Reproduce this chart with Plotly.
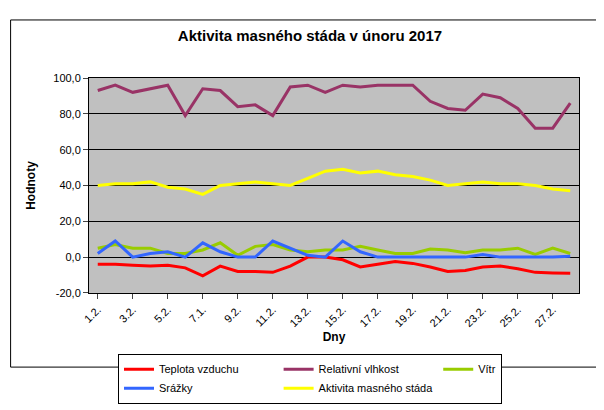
import plotly.graph_objects as go

days = ["1.2.","2.2.","3.2.","4.2.","5.2.","6.2.","7.1.","8.2.","9.2.","10.2.","11.2.","12.2.","13.2.","14.2.",
        "15.2.","16.2.","17.2.","18.2.","19.2.","20.2.","21.2.","22.2.","23.2.","24.2.","25.2.","26.2.","27.2.","28.2."]
teplota = [-4,-4,-4.5,-5,-4.5,-6,-10.5,-5,-8,-8,-8.5,-5,0,0,-1.5,-5.5,-4,-2.5,-3.5,-5.5,-8,-7.5,-5.5,-5,-6.5,-8.5,-8.8,-9]
vlhkost = [93,96,92,94,96,79,94,93,84,85,79,95,96,92,96,95,96,96,96,87,83,82,91,89,83,72,72,86]
vitr = [5,7,5,5,2,2,4,8,1,6,7,4,3,4,4,6,4,2,2,4.5,4,2.5,4,4,5,1.5,5,2]
srazky = [2,9,0,2,3,0,8,3,0,0,9,5,1,0,9,3,0,0,0,0,0,0,1.5,0,0,0,0,0.5]
aktivita = [40,41,41,42,39,38,35,40,41,42,41,40,44,48,49,47,48,46,45,43,40,41,42,41,41,40,38,37]
yticks = [-20,0,20,40,60,80,100]
yticklabels = ["-20,0","0,0","20,0","40,0","60,0","80,0","100,0"]

series = [("Teplota vzduchu", teplota, "#ff0000"),
          ("Relativní vlhkost", vlhkost, "#993366"),
          ("Vítr", vitr, "#99cc00"),
          ("Srážky", srazky, "#3366ff"),
          ("Aktivita masného stáda", aktivita, "#ffff00")]

fig = go.Figure()
for name, vals, col in series:
    fig.add_trace(go.Scatter(x=days, y=vals, name=name, mode="lines", line=dict(color=col, width=3)))

fig.update_layout(
    width=604, height=410, paper_bgcolor="white", plot_bgcolor="#c0c0c0",
    font=dict(family="Liberation Sans, Arial", size=11, color="black"),
    title=dict(text="<b>Aktivita masného stáda v únoru 2017</b>", x=0.5, y=0.945, xanchor="center", font=dict(size=15)),
    margin=dict(l=81, r=33, t=70, b=89),
    showlegend=True,
    legend=dict(orientation="h", xref="container", yref="container", x=0.5, xanchor="center", y=0.035, yanchor="bottom",
                bordercolor="black", borderwidth=1, font=dict(size=11), traceorder="normal",
                itemwidth=30, tracegroupgap=0),
    xaxis=dict(tickvals=days[::2], ticktext=days[::2], tickangle=-45, showline=True, linecolor="black",
               ticks="outside", range=[-0.5, 27.5], showgrid=False, mirror=True,
               title=dict(text="<b>Dny</b>", font=dict(size=12), standoff=4)),
    yaxis=dict(range=[-20, 100], tickvals=yticks, ticktext=yticklabels, showgrid=True, gridcolor="black",
               gridwidth=1, showline=True, linecolor="black", mirror=True, zeroline=False, ticks="outside",
               title=dict(text="<b>Hodnoty</b>", font=dict(size=12))),
    shapes=[dict(type="rect", xref="paper", yref="paper", x0=-0.16, x1=1.062, y0=-0.345, y1=1.27,
                 line=dict(color="black", width=1))]
)
fig.write_html("out.html")
